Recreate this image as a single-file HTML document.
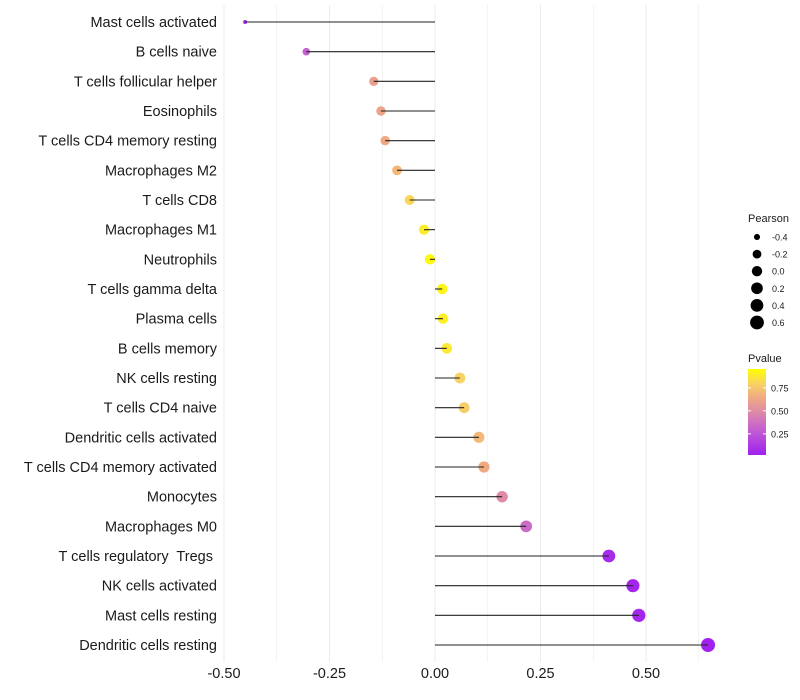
<!DOCTYPE html>
<html><head><meta charset="utf-8"><style>
body{margin:0;background:#fff;}
svg{display:block;font-family:"Liberation Sans",sans-serif;}
text{white-space:pre;}
</style></head><body>
<svg id="chart" width="800" height="700"></svg>
<script>
const categories=["Mast cells activated","B cells naive","T cells follicular helper","Eosinophils","T cells CD4 memory resting","Macrophages M2","T cells CD8","Macrophages M1","Neutrophils","T cells gamma delta","Plasma cells","B cells memory","NK cells resting","T cells CD4 naive","Dendritic cells activated","T cells CD4 memory activated","Monocytes","Macrophages M0","T cells regulatory  Tregs ","NK cells activated","Mast cells resting","Dendritic cells resting"];
const pearson=[-0.45,-0.305,-0.145,-0.128,-0.118,-0.09,-0.06,-0.026,-0.012,0.017,0.019,0.028,0.059,0.069,0.104,0.116,0.159,0.216,0.412,0.469,0.483,0.647];
const pvalue=[0.05,0.3,0.6,0.62,0.65,0.7,0.82,0.92,0.97,0.95,0.93,0.9,0.8,0.78,0.7,0.65,0.5,0.35,0.05,0.03,0.03,0.01];
const xTicks=[-0.5,-0.25,0,0.25,0.5];
const xTickLabels=["-0.50","-0.25","0.00","0.25","0.50"];
const sizeLegend=[-0.4,-0.2,0.0,0.2,0.4,0.6];
const sizeLegendLabels=["-0.4","-0.2","0.0","0.2","0.4","0.6"];
const pTicks=[0.25,0.5,0.75];
const pTickLabels=["0.25","0.50","0.75"];

const NS="http://www.w3.org/2000/svg";
const svg=document.getElementById('chart');
function mk(tag,attrs,parent){const e=document.createElementNS(NS,tag);for(const k in attrs)e.setAttribute(k,attrs[k]);(parent||svg).appendChild(e);return e;}
const x=v=>435+(v)*422;
const y=i=>22+i*29.667;
const r=v=>2+5*Math.sqrt(Math.max(0,v+0.45)/1.1);
function lerp(a,b,t){return a.map((c,i)=>Math.round(c+(b[i]-c)*t));}
const stops=[[0,[160,32,240]],[0.3,[196,96,208]],[0.5,[222,140,165]],[0.65,[240,170,130]],[0.8,[248,210,100]],[1,[255,255,0]]];
function col(p){for(let i=1;i<stops.length;i++){if(p<=stops[i][0]){const t=(p-stops[i-1][0])/(stops[i][0]-stops[i-1][0]);const c=lerp(stops[i-1][1],stops[i][1],t);return `rgb(${c})`;}}return 'rgb(255,255,0)';}

const grid=mk('g',{});


for(let v=-0.5;v<=0.63;v+=0.125){const gl=mk('line',{x1:x(v),x2:x(v),y1:5,y2:662,stroke:'#ebebeb','stroke-width':Math.abs((v*4)%1)<0.01?1:0.6},grid);

}

categories.forEach((c,i)=>{const t=mk('text',{x:217,y:y(i)+5,'text-anchor':'end','font-size':14.5,fill:'#1a1a1a'});t.textContent=c;

});

categories.forEach((c,i)=>{const d=mk('circle',{cx:x(pearson[i]),cy:y(i),r:r(pearson[i]),fill:col(pvalue[i])});


const s=mk('line',{x1:x(0),x2:x(pearson[i]),y1:y(i),y2:y(i),stroke:'#222','stroke-width':1.1});

});

xTicks.forEach((v,i)=>{const t=mk('text',{x:x(v),y:678,'text-anchor':'middle','font-size':14.5,fill:'#1a1a1a'});t.textContent=xTickLabels[i];

});

const t1=mk('text',{x:748,y:222,'font-size':11,fill:'#1a1a1a'});t1.textContent='Pearson';


sizeLegend.forEach((v,i)=>{const cy=237+i*17.1;
const c=mk('circle',{cx:757,cy:cy,r:r(v),fill:'#000'});


const t=mk('text',{x:772,y:cy+3.5,'font-size':9,fill:'#1a1a1a'});t.textContent=sizeLegendLabels[i];

});

const t2=mk('text',{x:748,y:362,'font-size':11,fill:'#1a1a1a'});t2.textContent='Pvalue';


const defs=mk('defs',{});const lg=mk('linearGradient',{id:'pg',x1:0,y1:1,x2:0,y2:0},defs);
stops.forEach(s=>{const p=(s[0]-0.02)/(0.96-0.02);mk('stop',{offset:Math.max(0,Math.min(1,p)),'stop-color':`rgb(${s[1]})`},lg);});
const py=p=>455-(p-0.02)/0.25*23;
const bar=mk('rect',{x:748,y:369,width:18,height:86,fill:'url(#pg)'});


pTicks.forEach((p,i)=>{mk('line',{x1:748,x2:751,y1:py(p),y2:py(p),stroke:'#fff'});mk('line',{x1:763,x2:766,y1:py(p),y2:py(p),stroke:'#fff'});
const t=mk('text',{x:771,y:py(p)+3.5,'font-size':9,fill:'#1a1a1a'});t.textContent=pTickLabels[i];

});
</script>
</body></html>
